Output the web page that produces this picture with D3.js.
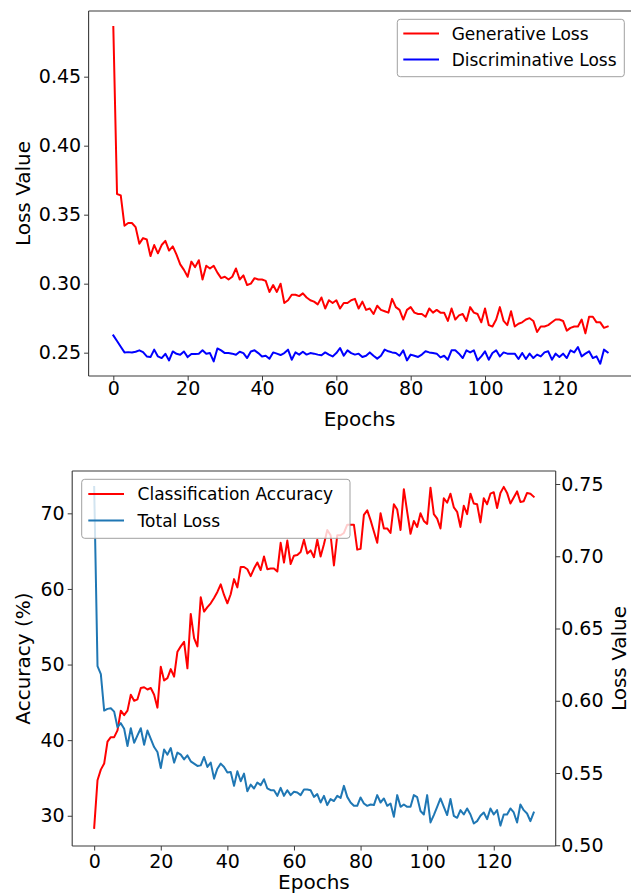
<!DOCTYPE html>
<html><head><meta charset="utf-8">
<script src="https://cdn.jsdelivr.net/npm/d3@7"></script>
<style>
body{margin:0;background:#fff}
svg{display:block}
text{font-family:"DejaVu Sans",sans-serif;fill:#000}
</style>
</head><body>
<svg id="c" width="631" height="894"></svg>
<script>
// ---------- data ----------
const generativeLoss = [
0.486,0.365,0.364,0.342,0.344,0.344,0.341,0.329,0.333,0.332,
0.320,0.328,0.322,0.328,0.331,0.324,0.327,0.321,0.314,0.310,
0.305,0.316,0.312,0.317,0.303,0.313,0.311,0.313,0.308,0.304,
0.305,0.303,0.305,0.311,0.303,0.306,0.299,0.300,0.304,0.303,
0.303,0.302,0.294,0.299,0.294,0.300,0.286,0.288,0.292,0.292,
0.291,0.293,0.290,0.288,0.287,0.285,0.290,0.282,0.288,0.286,
0.288,0.282,0.286,0.286,0.288,0.289,0.282,0.287,0.281,0.282,
0.278,0.284,0.281,0.280,0.279,0.289,0.283,0.281,0.274,0.281,
0.283,0.279,0.278,0.278,0.276,0.282,0.279,0.281,0.279,0.279,
0.273,0.282,0.274,0.277,0.278,0.273,0.283,0.279,0.278,0.272,
0.282,0.270,0.269,0.274,0.283,0.273,0.270,0.280,0.269,0.271,
0.272,0.274,0.275,0.273,0.265,0.269,0.269,0.270,0.272,0.274,
0.274,0.273,0.266,0.268,0.269,0.269,0.274,0.264,0.276,0.276,
0.272,0.272,0.268,0.269];
const discriminativeLoss = [
0.2625,0.2585,0.2543,0.2502,0.2504,0.2502,0.2507,0.2517,0.2504,0.2473,
0.2468,0.2522,0.2473,0.2461,0.2492,0.2444,0.2509,0.2492,0.2485,0.2509,
0.2468,0.2490,0.2490,0.2493,0.2517,0.2492,0.2497,0.2437,0.2531,0.2517,
0.2497,0.2497,0.2493,0.2485,0.2507,0.2497,0.2461,0.2509,0.2517,0.2497,
0.2473,0.2478,0.2456,0.2502,0.2493,0.2483,0.2497,0.2522,0.2449,0.2502,
0.2486,0.2507,0.2486,0.2497,0.2493,0.2486,0.2481,0.2502,0.2486,0.2473,
0.2497,0.2534,0.2478,0.2517,0.2497,0.2486,0.2493,0.2469,0.2478,0.2502,
0.2478,0.2457,0.2478,0.2522,0.2510,0.2502,0.2498,0.2478,0.2517,0.2444,
0.2486,0.2478,0.2469,0.2486,0.2510,0.2502,0.2498,0.2493,0.2466,0.2478,
0.2449,0.2517,0.2517,0.2493,0.2461,0.2517,0.2502,0.2517,0.2444,0.2473,
0.2510,0.2449,0.2498,0.2517,0.2473,0.2502,0.2493,0.2493,0.2493,0.2454,
0.2498,0.2454,0.2493,0.2461,0.2486,0.2473,0.2502,0.2510,0.2449,0.2493,
0.2469,0.2493,0.2461,0.2517,0.2502,0.2541,0.2473,0.2493,0.2510,0.2461,
0.2473,0.2420,0.2522,0.2502];
const accuracy = [
28.4,34.7,36.1,36.9,39.8,40.4,40.4,41.3,43.9,43.3,
43.9,46.0,45.2,45.4,46.9,47.0,46.7,46.9,46.0,44.3,
49.7,47.9,48.2,49.4,48.4,51.7,52.4,53.0,49.5,56.7,
53.5,52.4,58.9,57.0,57.6,58.1,58.8,59.6,60.6,59.2,
58.1,59.3,61.3,60.2,62.9,62.9,62.6,61.7,62.7,63.5,
62.5,64.3,62.6,62.7,62.7,62.3,66.1,63.5,66.4,63.3,
64.4,64.5,64.9,66.5,64.7,65.1,64.2,66.5,64.3,65.9,
67.8,67.1,63.1,67.1,67.1,67.4,68.5,68.5,68.5,65.2,
65.3,69.8,70.4,69.1,67.6,66.1,70.0,68.0,68.0,67.4,
71.2,70.5,67.8,73.2,70.2,67.3,69.0,68.2,70.0,69.0,
68.6,73.4,69.9,69.3,68.0,72.0,71.4,72.6,70.8,70.2,
68.2,71.0,69.9,72.6,71.3,71.2,68.8,72.0,71.2,72.6,
72.8,70.7,72.7,73.5,72.7,71.3,72.1,72.9,71.5,71.6,
72.7,72.6,72.2];
const totalLoss = [
0.748,0.624,0.6185,0.5932,0.5944,0.5948,0.5925,0.5817,0.5845,0.5806,
0.5687,0.581,0.5709,0.576,0.581,0.5696,0.5794,0.5737,0.568,0.5645,
0.5535,0.5663,0.5627,0.5673,0.5572,0.5641,0.5627,0.5594,0.5622,0.5581,
0.5565,0.5549,0.5553,0.5611,0.5542,0.5572,0.5461,0.553,0.5565,0.5542,
0.5503,0.5507,0.5411,0.5512,0.5443,0.5496,0.5374,0.542,0.5393,0.5434,
0.5416,0.5457,0.5393,0.5381,0.5381,0.5342,0.5397,0.5342,0.5381,0.5347,
0.537,0.5365,0.5347,0.5386,0.5386,0.5381,0.5335,0.5354,0.5296,0.5342,
0.5278,0.532,0.5306,0.5342,0.5328,0.5411,0.5335,0.5296,0.5273,0.5273,
0.5331,0.5289,0.5273,0.5282,0.5278,0.5347,0.5296,0.5324,0.5273,0.5289,
0.5197,0.5347,0.5266,0.5282,0.5266,0.5266,0.5347,0.5333,0.5237,0.5213,
0.5347,0.5158,0.5209,0.5266,0.5324,0.5266,0.5209,0.532,0.5204,0.519,
0.5243,0.5213,0.5255,0.5213,0.5151,0.5167,0.5204,0.5227,0.5181,0.5255,
0.5213,0.5243,0.5136,0.5213,0.5213,0.5255,0.5227,0.5158,0.5282,0.5243,
0.522,0.5167,0.5227];
const xTicks = [0,20,40,60,80,100,120];
const topLossTicks = [0.25,0.30,0.35,0.40,0.45];
const accTicks = [30,40,50,60,70];
const totalLossTicks = [0.50,0.55,0.60,0.65,0.70,0.75];
const topLegend = ["Generative Loss","Discriminative Loss"];
const bottomLegend = ["Classification Accuracy","Total Loss"];

// ---------- layout ----------
const svg = d3.select("#c");
const RED = "#ff0000", BLUE = "#0000ff", SB = "#1f77b4", SPINE = "#3a3a3a";
const TICKFS = 19, LABELFS = 20, LEGFS = 17;

function padDomain(n){ const p = 0.05*n; return [-p, n+p]; }

// top panel
const P1 = {l:88.6, r:632.4, t:11, b:376};
const x1 = d3.scaleLinear().domain(padDomain(generativeLoss.length-1)).range([P1.l, P1.r]);
const y1 = d3.scaleLinear().domain([0.2331, 0.4976]).range([P1.b, P1.t]);

// bottom panel
const P2 = {l:72.2, r:555.7, t:471, b:846};
const x2 = d3.scaleLinear().domain(padDomain(accuracy.length-1)).range([P2.l, P2.r]);
const y2a = d3.scaleLinear().domain([26.0, 75.6]).range([P2.b, P2.t]);
const y2b = d3.scaleLinear().domain([0.4995, 0.759]).range([P2.b, P2.t]);

const defs = svg.append("defs");
defs.append("clipPath").attr("id","cp1").append("rect")
  .attr("x",P1.l).attr("y",P1.t).attr("width",P1.r-P1.l).attr("height",P1.b-P1.t);
defs.append("clipPath").attr("id","cp2").append("rect")
  .attr("x",P2.l).attr("y",P2.t).attr("width",P2.r-P2.l).attr("height",P2.b-P2.t);

function styleAxis(g){
  g.select(".domain").remove();
  g.selectAll(".tick line").attr("stroke",SPINE).attr("stroke-width",1);
  g.selectAll(".tick text").attr("font-size",TICKFS).attr("font-family","DejaVu Sans").attr("fill","#000");
}

function frame(P, sides){
  const g = svg.append("g").attr("fill","none").attr("stroke",SPINE).attr("stroke-width",1.1);
  if (sides.includes("l")) g.append("line").attr("x1",P.l).attr("x2",P.l).attr("y1",P.t).attr("y2",P.b);
  if (sides.includes("r")) g.append("line").attr("x1",P.r).attr("x2",P.r).attr("y1",P.t).attr("y2",P.b);
  if (sides.includes("t")) g.append("line").attr("x1",P.l).attr("x2",P.r).attr("y1",P.t).attr("y2",P.t);
  if (sides.includes("b")) g.append("line").attr("x1",P.l).attr("x2",P.r).attr("y1",P.b).attr("y2",P.b);
}

function drawLine(data, x, y, color, clip){
  svg.append("path").datum(data)
    .attr("clip-path","url(#"+clip+")")
    .attr("fill","none").attr("stroke",color).attr("stroke-width",2)
    .attr("stroke-linejoin","round").attr("stroke-linecap","square")
    .attr("d", d3.line().x((d,i)=>x(i)).y(d=>y(d)));
}

function legend(box, items){
  const g = svg.append("g");
  g.append("rect").attr("x",box.x).attr("y",box.y).attr("width",box.w).attr("height",box.h)
    .attr("rx",3).attr("fill","#fff").attr("fill-opacity",0.8)
    .attr("stroke","#a0a0a0").attr("stroke-width",1);
  items.forEach((it,i)=>{
    const cy = box.row0 + i*box.dy;
    g.append("line").attr("x1",box.hx0).attr("x2",box.hx1).attr("y1",cy).attr("y2",cy)
      .attr("stroke",it.color).attr("stroke-width",2);
    g.append("text").attr("x",box.tx).attr("y",cy+6.4).attr("font-size",LEGFS).text(it.label);
  });
}

// ----- top panel -----
drawLine(generativeLoss, x1, y1, RED, "cp1");
drawLine(discriminativeLoss, x1, y1, BLUE, "cp1");
frame(P1, "ltb");

svg.append("g").attr("transform",`translate(0,${P1.b})`)
  .call(d3.axisBottom(x1).tickValues(xTicks).tickFormat(d3.format("d")).tickSize(4.5).tickPadding(1.5))
  .call(styleAxis);
svg.append("g").attr("transform",`translate(${P1.l},0)`)
  .call(d3.axisLeft(y1).tickValues(topLossTicks).tickFormat(d3.format(".2f")).tickSize(4.5).tickPadding(3))
  .call(styleAxis);

svg.append("text").attr("x",(P1.l+P1.r)/2 - 1).attr("y",426).attr("text-anchor","middle")
  .attr("font-size",LABELFS).text("Epochs");
svg.append("text").attr("transform",`translate(30,${(P1.t+P1.b)/2}) rotate(-90)`)
  .attr("text-anchor","middle").attr("font-size",LABELFS).text("Loss Value");

legend({x:397.3,y:19.3,w:227,h:57.4,row0:33.5,dy:26,hx0:403.3,hx1:439,tx:451.7},
  [{label:topLegend[0],color:RED},{label:topLegend[1],color:BLUE}]);

// ----- bottom panel -----
drawLine(accuracy, x2, y2a, RED, "cp2");
drawLine(totalLoss, x2, y2b, SB, "cp2");
frame(P2, "lrtb");

svg.append("g").attr("transform",`translate(0,${P2.b})`)
  .call(d3.axisBottom(x2).tickValues(xTicks).tickFormat(d3.format("d")).tickSize(4.5).tickPadding(4))
  .call(styleAxis);
svg.append("g").attr("transform",`translate(${P2.l},0)`)
  .call(d3.axisLeft(y2a).tickValues(accTicks).tickFormat(d3.format("d")).tickSize(4.5).tickPadding(3))
  .call(styleAxis);
svg.append("g").attr("transform",`translate(${P2.r},0)`)
  .call(d3.axisRight(y2b).tickValues(totalLossTicks).tickFormat(d3.format(".2f")).tickSize(4.5).tickPadding(1))
  .call(styleAxis);

svg.append("text").attr("x",(P2.l+P2.r)/2).attr("y",889).attr("text-anchor","middle")
  .attr("font-size",LABELFS).text("Epochs");
svg.append("text").attr("transform",`translate(30,${(P2.t+P2.b)/2}) rotate(-90)`)
  .attr("text-anchor","middle").attr("font-size",LABELFS).text("Accuracy (%)");
svg.append("text").attr("transform",`translate(626,${(P2.t+P2.b)/2}) rotate(-90)`)
  .attr("text-anchor","middle").attr("font-size",LABELFS).text("Loss Value");

legend({x:81.7,y:479.3,w:268.3,h:59,row0:494,dy:26.5,hx0:88.3,hx1:124,tx:137.6},
  [{label:bottomLegend[0],color:RED},{label:bottomLegend[1],color:SB}]);
</script>
</body></html>
